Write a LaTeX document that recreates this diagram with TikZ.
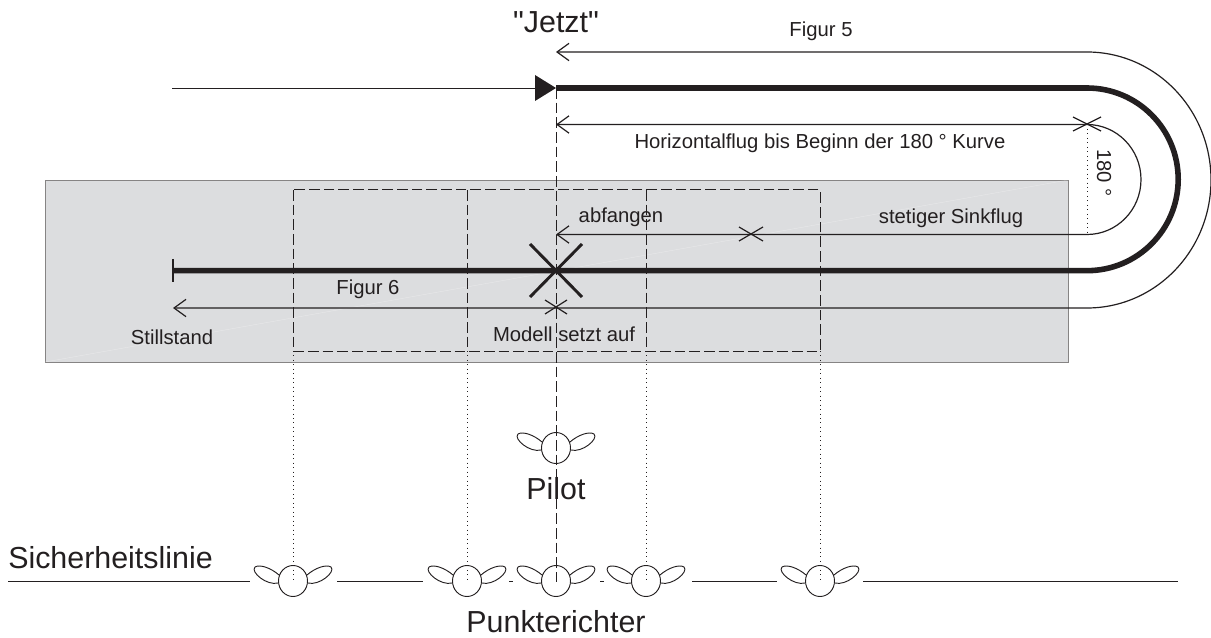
\documentclass[tikz,border=0pt]{standalone}
\usepackage{fontspec}
\setmainfont{Liberation Sans}
\newfontfamily\plainquote{Liberation Sans}
\usetikzlibrary{arrows.meta}
\definecolor{ink}{HTML}{231F20}
\definecolor{feld}{HTML}{DCDDDF}
\tikzset{
	thin line/.style = {color = ink, line width = 0.9pt},
	thick line/.style = {color = ink, line width = 4.2pt},
	dash line/.style = {color = ink, line width = 0.75pt, dash pattern = on 8pt off 3pt},
	dot line/.style = {color = ink, line width = 0.75pt, dash pattern = on 0.75pt off 2.6pt},
	fly arrows/.style = {thin line, arrows = {Straight Barb[length = 9pt, width = 13pt, line width = 0.9pt]-Straight Barb[length = 9pt, width = 13pt, line width = 0.9pt]}},
	small text/.style = {color = ink, font = \fontsize{15.2}{18}\selectfont, inner sep = 0pt},
	big text/.style = {color = ink, font = \fontsize{22.8}{26}\selectfont, inner sep = 0pt},
	person/.pic = {
		\draw [color = ink, line width = 0.7pt] (0, 0) ellipse (14.5 and 15.5);
		\draw [color = ink, line width = 0.7pt] (-14, -6) .. controls (-22, -13) and (-33, -17) .. (-38, -14) .. controls (-43, -9) and (-26, 5) .. (-15, 2);
		\draw [color = ink, line width = 0.7pt] (14, -6) .. controls (22, -13) and (33, -17) .. (38, -14) .. controls (43, -9) and (26, 5) .. (15, 2);
	}
}
\begin{document}
\begin{tikzpicture}[x = 0.75pt, y = -0.75pt]
		\useasboundingbox (0, 0) rectangle (1211, 638);
		% Feld
		\draw [fill = feld, draw = ink!55, line width = 0.7pt] (45, 180) rectangle (1068, 362);
		\draw [color = white, line width = 0.3pt, opacity = 0.35] (45, 362) -- (1068, 180);
		% Punkte
		\coordinate (jetzt) at (556, 88);
		\coordinate (start) at (172, 88);
		\coordinate (outerEnd) at (1087, 308);
		\coordinate (outerTip) at (556, 52);
		\coordinate (stopTip) at (173, 308);
		\coordinate (thickTop) at (1087, 88);
		\coordinate (stop) at (173, 270.7);
		\coordinate (innerTop) at (1087, 124.5);
		\coordinate (innerEnd) at (1087, 234.5);
		\coordinate (horTip) at (556, 124.5);
		\coordinate (sinkTip) at (556, 234.5);
		% Punktrichter Rahmen
		\draw [dash line] (293, 190) rectangle (820, 351);
		\foreach \px in {293, 467, 646, 820} {
			\coordinate (top\px) at (\px, 190);
			\coordinate (mid\px) at (\px, 351);
			\coordinate (low\px) at (\px, 582);
			\draw [dot line] (mid\px) -- (low\px);
		}
		\draw [dash line] (top467) -- (mid467);
		\draw [dash line] (top646) -- (mid646);
		% Mittellinie
		\coordinate (centerLow) at (556, 582);
		\draw [dash line] (jetzt) -- (centerLow);
		% Anflug
		\draw [color = ink, line width = 0.6pt] (start) -- (535, 88);
		\fill [color = ink] (535, 75) -- (jetzt) -- (535, 101) -- cycle;
		\draw [thick line] (jetzt) -- (thickTop) arc [start angle = 90, end angle = -90, x radius = 68.4pt, y radius = 68.5pt] -- (stop);
		\draw [color = ink, line width = 2.2pt] (173, 259) -- (173, 282);
		% Figur 5 und 6
		\draw [fly arrows] (stopTip) -- (outerEnd) arc [start angle = -90, end angle = 90, x radius = 93pt, y radius = 96pt] -- (outerTip);
		\draw [fly arrows] (horTip) -- (innerTop) arc [start angle = 90, end angle = -90, x radius = 40.5pt, y radius = 41.25pt] -- (sinkTip);
		\draw [dot line] (innerTop) -- (innerEnd);
		% Kreuze
		\draw [color = ink, line width = 2.2pt] (530, 244) -- (582, 297);
		\draw [color = ink, line width = 2.2pt] (582, 244) -- (530, 297);
		\draw [thin line] (545, 300) -- (567, 314);
		\draw [thin line] (567, 300) -- (545, 314);
		\draw [thin line] (739, 227) -- (763, 241);
		\draw [thin line] (763, 227) -- (739, 241);
		\draw [thin line] (1073, 117) -- (1101, 131);
		\draw [thin line] (1101, 117) -- (1073, 131);
		% Sicherheitslinie
		\draw [thin line] (8, 581.5) -- (250, 581.5);
		\draw [thin line] (337, 581.5) -- (423, 581.5);
		\draw [thin line] (509, 581.5) -- (513, 581.5);
		\draw [thin line] (600, 581.5) -- (604, 581.5);
		\draw [thin line] (692, 581.5) -- (777, 581.5);
		\draw [thin line] (863, 581.5) -- (1178, 581.5);
		% Personen
		\pic (pilotFigur) at (556, 448) {person};
		\foreach \px in {293, 467, 556, 646, 820} {
			\pic (richter\px) at (\px, 581) {person};
		}
		% Texte
		\node [big text] (jetztText) at (556, 22) {\plainquote "Jetzt"};
		\node [small text] (figFive) at (821, 31) {Figur 5};
		\node [small text] (horText) at (820, 143) {Horizontalflug bis Beginn der 180 ° Kurve};
		\node [small text, rotate = -90] (degText) at (1104, 173) {180 °};
		\node [small text] (abfangen) at (621, 217) {abfangen};
		\node [small text] (sinkflug) at (951, 218) {stetiger Sinkflug};
		\node [small text] (figSix) at (368, 289) {Figur 6};
		\node [small text] (stillstand) at (172, 337) {Stillstand};
		\node [small text] (aufsetzText) at (564, 334) {Modell setzt auf};
		\node [big text] (pilot) at (556, 489) {Pilot};
		\node [big text, anchor = west] (sicherheit) at (8, 558) {Sicherheitslinie};
		\node [big text] (punktrichter) at (556, 622) {Punkterichter};
	\end{tikzpicture}
\end{document}
